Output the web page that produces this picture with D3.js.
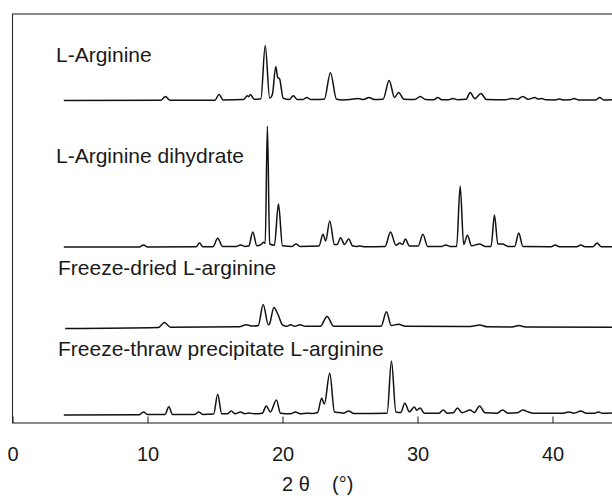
<!DOCTYPE html>
<html>
<head>
<meta charset="utf-8">
<script src="https://d3js.org/d3.v7.min.js"></script>
<style>
  body { margin: 0; background: #fff; }
  svg { display: block; font-family: Arial, "Liberation Sans", sans-serif; }
</style>
</head>
<body>
<div id="chart"></div>
<script>
// x tick values (2θ, degrees)
const xTicks = [0, 10, 20, 30, 40];

// sample names, top to bottom
const names = [
    "L-Arginine",
    "L-Arginine dihydrate",
    "Freeze-dried L-arginine",
    "Freeze-thraw precipitate L-arginine"
];

// traces: [2θ, relative intensity]
const lArginine = [
    [3.8,0],[11.0,0.3],[11.33,3.3],[11.65,0.3],
    [15.0,0.3],[15.3,5],[15.6,0.5],
    [17.1,0.8],[17.4,4],[17.5,3.2],[17.62,5],[17.9,1],
    [18.4,1.5],[18.72,45.5],[19.05,2],
    [19.25,5],[19.5,28],[19.65,19],[19.78,18],[20.05,2],
    [20.5,0.8],[20.8,4],[21.1,0.8],
    [21.5,0.8],[21.8,2.5],[22.1,0.8],
    [23.1,1],[23.55,23],[24.0,1],
    [24.5,0.5],[25.0,0.8],[25.6,1.7],[26.0,0.8],[26.4,2.5],[26.8,0.8],
    [27.45,1],[27.9,16.5],[28.3,2.5],[28.6,6.6],[29.0,1],
    [29.8,0.8],[30.2,3.3],[30.6,0.8],
    [31.2,0.6],[31.5,2.5],[31.8,0.6],
    [32.3,0.6],[32.6,1.7],[33.0,0.6],
    [33.6,1],[33.9,6.6],[34.25,1.5],[34.7,5.8],[35.1,0.8],
    [36.5,0.6],[37.0,1.7],[37.4,1],[37.8,3.3],[38.2,1],[38.7,2.5],[38.95,1.2],[39.2,1.7],[39.5,0.6],
    [40.2,0.5],[40.5,1.2],[40.8,0.5],[41.3,0.6],[41.6,1.7],[41.9,0.5],
    [43.2,0.5],[43.5,2.5],[43.8,0.5],[44.6,0.8]
];

const dihydrate = [
    [3.8,0],[9.4,0],[9.7,1.7],[10.0,0],
    [13.6,0.2],[13.85,3.3],[14.1,0.3],
    [14.85,0.3],[15.2,7.2],[15.55,0.5],
    [16.6,0.5],[16.9,1.7],[17.2,0.5],
    [17.5,0.8],[17.8,12.4],[18.1,1],
    [18.4,2],[18.6,4],[18.72,3],[18.88,100],[19.05,2.5],
    [19.4,1.5],[19.7,35.5],[20.0,1],
    [20.7,0.5],[21.0,2.5],[21.3,0.5],
    [22.7,0.8],[23.0,10.5],[23.2,5],[23.5,21.5],[23.85,2],
    [24.05,2],[24.3,7.7],[24.6,2],[24.9,6.6],[25.2,0.8],
    [25.5,0.5],[25.7,0.8],[26.0,0.3],
    [27.6,0.5],[28.0,12.4],[28.4,1.5],[28.7,3.3],[28.9,2],[29.1,6.6],[29.4,0.8],
    [30.05,0.8],[30.4,10.5],[30.75,0.5],
    [31.8,0.5],[32.1,1.7],[32.4,0.5],
    [32.9,0.5],[33.16,50.4],[33.42,2],[33.7,9.7],[34.0,1],[34.6,2.5],[35.0,0.5],
    [35.45,0.5],[35.7,26.4],[35.95,2.5],[36.3,2.5],[36.7,0.5],
    [37.2,0.5],[37.5,11.6],[37.8,0.5],
    [39.9,0.3],[40.2,1.7],[40.5,0.3],
    [41.8,0.3],[42.1,1.7],[42.4,0.3],
    [43.0,0.3],[43.3,3.3],[43.6,0.3],[44.6,0.3]
];

const freezeDried = [
    [3.9,0],[10.8,0.8],[11.26,5],[11.7,1],
    [16.8,1.5],[17.3,3],[17.8,2],
    [18.2,2.5],[18.57,19.8],[18.95,3],
    [19.05,4],[19.36,17.4],[19.65,12],[20.0,3],
    [20.3,1.8],[20.6,3],[20.9,1.8],[21.3,3],[21.7,1.8],
    [22.8,1.8],[23.3,10],[23.8,1.8],
    [27.3,1.8],[27.7,13.8],[28.05,2.5],[28.6,3.5],[29.1,1.8],
    [33.9,1.6],[34.6,2.8],[35.2,1.4],
    [37.0,1.3],[37.5,2.5],[38.0,1.2],[44.6,1]
];

const freezeThaw = [
    [3.8,0],[9.4,0.3],[9.7,2.5],[10.0,0.5],
    [11.3,0.5],[11.58,6.9],[11.85,0.5],
    [13.5,0.5],[13.8,2.5],[14.1,0.5],
    [14.9,0.8],[15.2,17.1],[15.5,1],
    [15.9,1],[16.2,3.3],[16.5,1],[16.9,2.5],[17.2,1],[17.5,1.7],[17.9,1],
    [18.5,1.5],[18.8,7.4],[19.1,2.5],[19.55,12.4],[19.85,1.5],
    [20.6,1],[20.96,2.5],[21.3,1],[21.8,1.5],[22.2,1.2],
    [22.6,2],[22.9,13.8],[23.1,9],[23.5,34.5],[23.85,2.5],
    [24.2,2],[24.5,1.5],[24.9,3.3],[25.3,1.2],
    [27.75,1.5],[28.07,44.6],[28.4,2.5],
    [28.75,2],[29.06,9.7],[29.4,2.5],[29.76,6.6],[29.95,4],[30.2,5.8],[30.5,1.5],
    [31.6,1.5],[31.9,4.1],[32.2,1.5],
    [32.65,1.8],[32.96,5.8],[33.3,1.8],[33.9,4.1],[34.2,2],[34.6,7.4],[35.0,1.8],
    [35.9,1.5],[36.3,4.1],[36.7,1.5],
    [37.4,1.8],[37.8,4.1],[38.2,2.5],[38.6,1.5],
    [40.8,1.5],[41.2,2.5],[41.6,1.5],[42.1,3.3],[42.5,1.5],
    [43.1,1.5],[43.4,2.5],[43.7,1.5],[44.6,1.8]
];

const traces = [lArginine, dihydrate, freezeDried, freezeThaw];

// layout
const W = 612, H = 496;
const frame = { left: 12.5, top: 14, bottom: 423 };
const baselines = [100.5, 247, 328.5, 415];      // pixel y of each trace's zero
const labelPos = [[56, 62], [56, 163], [58, 275], [58, 356]];
const ampPx = 121;                                // pixels for intensity 100

const svg = d3.select("#chart").append("svg")
    .attr("width", W)
    .attr("height", H);

const x = d3.scaleLinear().domain([0, 45]).range([frame.left, frame.left + 45 * 13.5]);

// frame box (right edge runs off the page)
svg.append("rect")
    .attr("x", frame.left)
    .attr("y", frame.top)
    .attr("width", W + 10 - frame.left)
    .attr("height", frame.bottom - frame.top)
    .attr("fill", "none")
    .attr("stroke", "#2a2a2a")
    .attr("stroke-width", 1.1);

// bottom axis with inward ticks
const axis = svg.append("g")
    .attr("transform", `translate(0,${frame.bottom})`)
    .call(d3.axisBottom(x).tickValues(xTicks).tickSizeInner(-6.5).tickSizeOuter(0).tickPadding(24));
axis.select(".domain").remove();
axis.selectAll(".tick line").attr("stroke", "#2a2a2a").attr("stroke-width", 1.1);
axis.selectAll(".tick text")
    .attr("font-size", 20)
    .attr("font-family", "Arial, 'Liberation Sans', sans-serif")
    .attr("fill", "#1a1a1a");

// axis title
svg.append("text")
    .attr("x", 282).attr("y", 491)
    .attr("font-size", 20).attr("fill", "#1a1a1a")
    .text("2 θ");
svg.append("text")
    .attr("x", 332).attr("y", 491)
    .attr("font-size", 20).attr("fill", "#1a1a1a")
    .text("(°)");

// traces
traces.forEach((pts, i) => {
    const y = d3.scaleLinear().domain([0, 100]).range([baselines[i], baselines[i] - ampPx]);
    const line = d3.line()
        .x(d => x(d[0]))
        .y(d => y(d[1]))
        .curve(d3.curveMonotoneX);
    svg.append("path")
        .datum(pts)
        .attr("d", line)
        .attr("fill", "none")
        .attr("stroke", "#111")
        .attr("stroke-width", 1.5)
        .attr("stroke-linejoin", "round");

    svg.append("text")
        .attr("x", labelPos[i][0])
        .attr("y", labelPos[i][1])
        .attr("font-size", 21)
        .attr("fill", "#1a1a1a")
        .text(names[i]);
});
</script>
</body>
</html>
